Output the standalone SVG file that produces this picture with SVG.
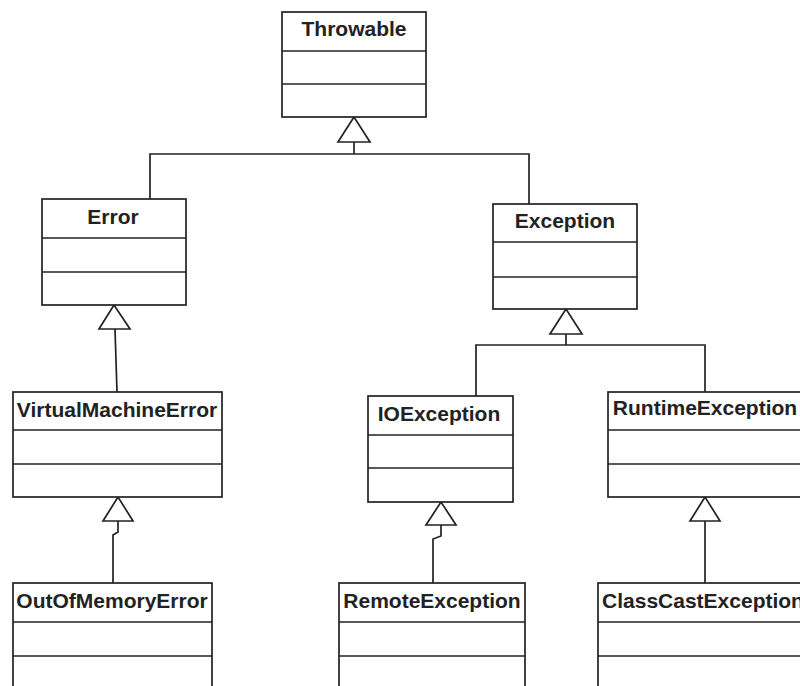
<svg xmlns="http://www.w3.org/2000/svg" width="800" height="686" viewBox="0 0 800 686">
<style>
.box{fill:#fff;stroke:#222;stroke-width:1.7}
.div{stroke:#222;stroke-width:1.7}
.t{font-family:"Liberation Sans",Arial,sans-serif;font-weight:bold;font-size:21px;fill:#222;text-anchor:middle}
.c{fill:none;stroke:#222;stroke-width:1.7}
.tri{fill:#fff;stroke:#222;stroke-width:1.7;stroke-linejoin:miter}
</style>
<rect width="800" height="686" fill="#fff"/>
<g id="connectors">
<polyline class="c" points="150,199 150,154 529,154 529,204"/>
<line class="c" x1="354" y1="142" x2="354" y2="154"/>
<polygon class="tri" points="354,117 338,142 370,142"/>
<polyline class="c" points="476,396 476,345 705,345 705,392"/>
<line class="c" x1="566" y1="334" x2="566" y2="345"/>
<polygon class="tri" points="566,309 550,334 582,334"/>
<line class="c" x1="115" y1="329" x2="117" y2="392"/>
<polygon class="tri" points="114,305 99,329 130,329"/>
<polyline class="c" points="118,521 118,532 113,535 113,583"/>
<polygon class="tri" points="118,497 103,521 133,521"/>
<polyline class="c" points="441,525 441,536 433,539 433,583"/>
<polygon class="tri" points="441,502 426,525 456,525"/>
<line class="c" x1="705" y1="521" x2="705" y2="583"/>
<polygon class="tri" points="705,497 690,521 720,521"/>
</g>
<g id="Throwable">
<rect class="box" x="282" y="12" width="144" height="105"/>
<line class="div" x1="282" y1="51" x2="426" y2="51"/>
<line class="div" x1="282" y1="84" x2="426" y2="84"/>
<text class="t" x="354" y="36">Throwable</text>
</g>
<g id="Error">
<rect class="box" x="42" y="199" width="144" height="106"/>
<line class="div" x1="42" y1="238" x2="186" y2="238"/>
<line class="div" x1="42" y1="272" x2="186" y2="272"/>
<text class="t" x="113" y="224">Error</text>
</g>
<g id="Exception">
<rect class="box" x="493" y="204" width="144" height="105"/>
<line class="div" x1="493" y1="242" x2="637" y2="242"/>
<line class="div" x1="493" y1="277" x2="637" y2="277"/>
<text class="t" x="565" y="228">Exception</text>
</g>
<g id="VirtualMachineError">
<rect class="box" x="13" y="392" width="209" height="105"/>
<line class="div" x1="13" y1="430" x2="222" y2="430"/>
<line class="div" x1="13" y1="464" x2="222" y2="464"/>
<text class="t" x="117" y="417">VirtualMachineError</text>
</g>
<g id="IOException">
<rect class="box" x="368" y="396" width="145" height="106"/>
<line class="div" x1="368" y1="435" x2="513" y2="435"/>
<line class="div" x1="368" y1="468" x2="513" y2="468"/>
<text class="t" x="439" y="421">IOException</text>
</g>
<g id="RuntimeException">
<rect class="box" x="608" y="392" width="194" height="105"/>
<line class="div" x1="608" y1="430" x2="802" y2="430"/>
<line class="div" x1="608" y1="464" x2="802" y2="464"/>
<text class="t" x="705" y="415">RuntimeException</text>
</g>
<g id="OutOfMemoryError">
<rect class="box" x="13" y="583" width="199" height="110"/>
<line class="div" x1="13" y1="622" x2="212" y2="622"/>
<line class="div" x1="13" y1="656" x2="212" y2="656"/>
<text class="t" x="112" y="608">OutOfMemoryError</text>
</g>
<g id="RemoteException">
<rect class="box" x="339" y="583" width="186" height="110"/>
<line class="div" x1="339" y1="622" x2="525" y2="622"/>
<line class="div" x1="339" y1="656" x2="525" y2="656"/>
<text class="t" x="432" y="608">RemoteException</text>
</g>
<g id="ClassCastException">
<rect class="box" x="598" y="583" width="212" height="110"/>
<line class="div" x1="598" y1="622" x2="810" y2="622"/>
<line class="div" x1="598" y1="656" x2="810" y2="656"/>
<text class="t" x="703" y="608">ClassCastException</text>
</g>
</svg>
